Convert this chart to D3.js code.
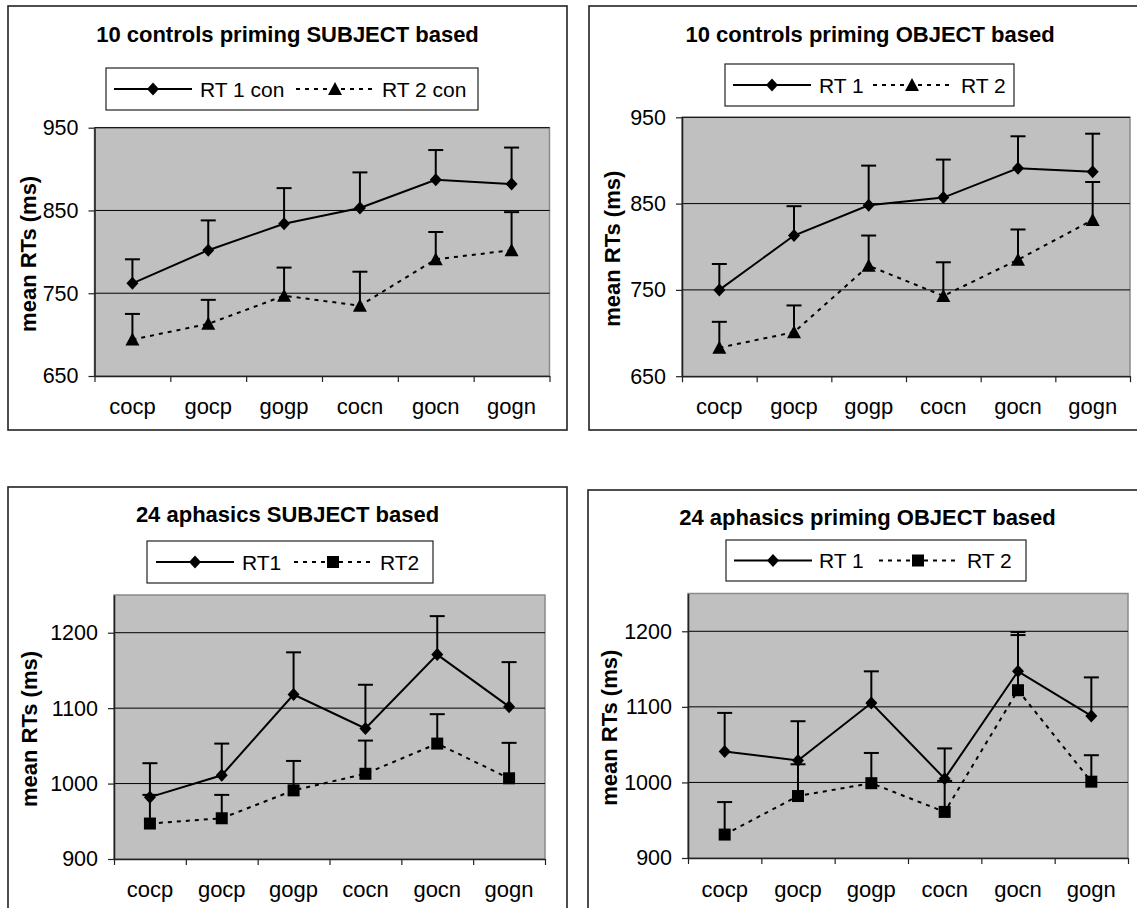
<!DOCTYPE html>
<html>
<head>
<meta charset="utf-8">
<script src="https://cdn.jsdelivr.net/npm/d3@7"></script>
<style>
  body { margin: 0; background: #fff; }
  svg { display: block; font-family: "Liberation Sans", Arial, sans-serif; }
</style>
</head>
<body>
<svg id="fig" width="1137" height="908"></svg>
<script>
// Conditions on the x axis
const categories = ["cocp", "gocp", "gogp", "cocn", "gocn", "gogn"];

// Y axis tick values
const ticksControls = [650, 750, 850, 950];
const ticksAphasics = [900, 1000, 1100, 1200];

// 10 controls, subject-based priming (mean RT and +1 error, ms)
const ctrlSubjRT1 = [762, 802, 834, 853, 887, 882];
const ctrlSubjRT1Err = [29, 36, 43, 43, 36, 44];
const ctrlSubjRT2 = [694, 713, 747, 735, 791, 802];
const ctrlSubjRT2Err = [31, 29, 34, 41, 33, 46];

// 10 controls, object-based priming
const ctrlObjRT1 = [750, 813, 848, 857, 891, 887];
const ctrlObjRT1Err = [30, 34, 46, 44, 37, 44];
const ctrlObjRT2 = [683, 701, 778, 743, 785, 831];
const ctrlObjRT2Err = [30, 31, 35, 39, 35, 44];

// 24 aphasics, subject-based
const aphSubjRT1 = [982, 1011, 1118, 1073, 1171, 1102];
const aphSubjRT1Err = [45, 42, 56, 58, 51, 59];
const aphSubjRT2 = [947, 954, 991, 1013, 1053, 1007];
const aphSubjRT2Err = [38, 31, 39, 44, 39, 47];

// 24 aphasics, object-based priming
const aphObjRT1 = [1041, 1029, 1105, 1005, 1147, 1088];
const aphObjRT1Err = [51, 52, 42, 40, 52, 51];
const aphObjRT2 = [931, 982, 999, 961, 1122, 1001];
const aphObjRT2Err = [43, 42, 40, 41, 73, 35];

// Panel layout
const panels = [
  {
    title: "10 controls priming SUBJECT based",
    names: ["RT 1 con", "RT 2 con"], marker2: "triangle",
    s1: ctrlSubjRT1, e1: ctrlSubjRT1Err, s2: ctrlSubjRT2, e2: ctrlSubjRT2Err,
    domain: [650, 950], ticks: ticksControls,
    frame: { x: 8, y: 6, w: 559, h: 424 },
    plot: { l: 94.5, r: 549.5, t: 127.7, b: 376 },
    titleY: 42, xLabelY: 414, axisTitleX: 28,
    legend: { x: 106, y: 68, w: 372, h: 42, items: [[114, 200], [296, 382]] }
  },
  {
    title: "10 controls priming OBJECT based",
    names: ["RT 1", "RT 2"], marker2: "triangle",
    s1: ctrlObjRT1, e1: ctrlObjRT1Err, s2: ctrlObjRT2, e2: ctrlObjRT2Err,
    domain: [650, 950], ticks: ticksControls,
    frame: { x: 589, y: 6, w: 562, h: 424 },
    plot: { l: 682, r: 1130, t: 117.3, b: 376.2 },
    titleY: 42, xLabelY: 414, axisTitleX: 612,
    legend: { x: 725, y: 64, w: 289, h: 42, items: [[733, 819], [873, 961]] }
  },
  {
    title: "24 aphasics SUBJECT based",
    names: ["RT1", "RT2"], marker2: "square",
    s1: aphSubjRT1, e1: aphSubjRT1Err, s2: aphSubjRT2, e2: aphSubjRT2Err,
    domain: [900, 1250], ticks: ticksAphasics,
    frame: { x: 8, y: 487, w: 559, h: 440 },
    plot: { l: 114, r: 545, t: 595, b: 859 },
    titleY: 522, xLabelY: 897, axisTitleX: 29,
    legend: { x: 147, y: 541, w: 286, h: 42, items: [[156, 242], [294, 380]] }
  },
  {
    title: "24 aphasics priming OBJECT based",
    names: ["RT 1", "RT 2"], marker2: "square",
    s1: aphObjRT1, e1: aphObjRT1Err, s2: aphObjRT2, e2: aphObjRT2Err,
    domain: [900, 1250], ticks: ticksAphasics,
    frame: { x: 588, y: 490, w: 559, h: 440 },
    plot: { l: 688, r: 1128, t: 593.5, b: 858 },
    titleY: 525, xLabelY: 897, axisTitleX: 609,
    legend: { x: 726, y: 540, w: 300, h: 41, items: [[734, 819], [879, 967]] }
  }
];

const svg = d3.select("#fig");
const LINE_LEN = 78;
const DASH = "4,5";

function drawMarker(g, type, x, y) {
  if (type === "diamond") {
    g.append("path")
      .attr("d", `M${x},${y - 6.5}L${x + 6},${y}L${x},${y + 6.5}L${x - 6},${y}Z`)
      .attr("fill", "#000");
  } else if (type === "triangle") {
    g.append("path")
      .attr("d", `M${x},${y - 7}L${x + 7},${y + 6}L${x - 7},${y + 6}Z`)
      .attr("fill", "#000");
  } else {
    g.append("rect")
      .attr("x", x - 6).attr("y", y - 6).attr("width", 12).attr("height", 12)
      .attr("fill", "#000");
  }
}

panels.forEach(p => {
  const g = svg.append("g");

  // Outer chart frame
  g.append("rect")
    .attr("x", p.frame.x).attr("y", p.frame.y)
    .attr("width", p.frame.w).attr("height", p.frame.h)
    .attr("fill", "#fff").attr("stroke", "#222").attr("stroke-width", 1.6);

  // Title
  g.append("text")
    .attr("x", p.frame.x + p.frame.w / 2).attr("y", p.titleY)
    .attr("text-anchor", "middle")
    .attr("font-size", 22).attr("font-weight", "bold")
    .text(p.title);

  // Scales
  const x = d3.scaleBand().domain(categories).range([p.plot.l, p.plot.r]).padding(0);
  const y = d3.scaleLinear().domain(p.domain).range([p.plot.b, p.plot.t]);
  const cx = c => x(c) + x.bandwidth() / 2;

  // Plot area
  g.append("rect")
    .attr("x", p.plot.l).attr("y", p.plot.t)
    .attr("width", p.plot.r - p.plot.l).attr("height", p.plot.b - p.plot.t)
    .attr("fill", "#c0c0c0").attr("stroke", "#8a8a8a").attr("stroke-width", 1.5);

  // Gridlines
  g.append("g").selectAll("line")
    .data(p.ticks.filter(t => t > p.domain[0]))
    .join("line")
    .attr("x1", p.plot.l).attr("x2", p.plot.r)
    .attr("y1", d => y(d)).attr("y2", d => y(d))
    .attr("stroke", "#000").attr("stroke-width", 1);

  // Y axis
  const yAxis = g.append("g")
    .attr("transform", `translate(${p.plot.l},0)`)
    .call(d3.axisLeft(y).tickValues(p.ticks).tickFormat(d3.format("d"))
      .tickSize(6).tickPadding(10).tickSizeOuter(0));
  yAxis.select(".domain").attr("stroke", "#222").attr("stroke-width", 1.6);
  yAxis.selectAll(".tick line").attr("stroke", "#222").attr("stroke-width", 1.2);
  yAxis.selectAll(".tick text")
    .attr("font-size", 21.5).attr("fill", "#000")
    .attr("font-family", "'Liberation Sans', Arial, sans-serif");

  // X axis: boundary ticks between categories
  const xb = d3.scaleLinear().domain([0, categories.length]).range([p.plot.l, p.plot.r]);
  const xAxis = g.append("g")
    .attr("transform", `translate(0,${p.plot.b})`)
    .call(d3.axisBottom(xb).tickValues(d3.range(categories.length + 1))
      .tickSize(6).tickSizeOuter(0).tickFormat(""));
  xAxis.select(".domain").attr("stroke", "#222").attr("stroke-width", 1.6);
  xAxis.selectAll(".tick line").attr("stroke", "#222").attr("stroke-width", 1.2);

  // X category labels
  g.append("g").selectAll("text")
    .data(categories)
    .join("text")
    .attr("x", d => cx(d)).attr("y", p.xLabelY)
    .attr("text-anchor", "middle").attr("font-size", 22)
    .text(d => d);

  // Y axis title
  g.append("text")
    .attr("transform", `translate(${p.axisTitleX},${(p.plot.t + p.plot.b) / 2 + 2}) rotate(-90)`)
    .attr("text-anchor", "middle").attr("dominant-baseline", "central")
    .attr("font-size", 22).attr("font-weight", "bold")
    .text("mean RTs (ms)");

  const series = [
    { vals: p.s1, errs: p.e1, dash: null, marker: "diamond" },
    { vals: p.s2, errs: p.e2, dash: DASH, marker: p.marker2 }
  ];

  const line = d3.line().x((d, i) => cx(categories[i])).y(d => y(d));

  series.forEach(s => {
    g.append("path")
      .attr("d", line(s.vals))
      .attr("fill", "none").attr("stroke", "#000").attr("stroke-width", 2)
      .attr("stroke-dasharray", s.dash);
  });

  // Error bars (upward only)
  series.forEach(s => {
    const eg = g.append("g");
    s.vals.forEach((v, i) => {
      const px = cx(categories[i]);
      eg.append("line")
        .attr("x1", px).attr("x2", px)
        .attr("y1", y(v)).attr("y2", y(v + s.errs[i]))
        .attr("stroke", "#000").attr("stroke-width", 2);
      eg.append("line")
        .attr("x1", px - 7.5).attr("x2", px + 7.5)
        .attr("y1", y(v + s.errs[i])).attr("y2", y(v + s.errs[i]))
        .attr("stroke", "#000").attr("stroke-width", 2);
    });
  });

  // Markers
  series.forEach(s => {
    const mg = g.append("g");
    s.vals.forEach((v, i) => drawMarker(mg, s.marker, cx(categories[i]), y(v)));
  });

  // Legend
  const L = p.legend;
  g.append("rect")
    .attr("x", L.x).attr("y", L.y).attr("width", L.w).attr("height", L.h)
    .attr("fill", "#fff").attr("stroke", "#222").attr("stroke-width", 1.2);
  const ly = L.y + L.h / 2;
  L.items.forEach(([lx, tx], k) => {
    const s = series[k];
    g.append("line")
      .attr("x1", lx).attr("x2", lx + LINE_LEN)
      .attr("y1", ly).attr("y2", ly)
      .attr("stroke", "#000").attr("stroke-width", 2)
      .attr("stroke-dasharray", s.dash);
    drawMarker(g, s.marker, lx + LINE_LEN / 2, ly);
    g.append("text")
      .attr("x", tx).attr("y", ly + 7.5)
      .attr("font-size", 21)
      .text(p.names[k]);
  });
});
</script>
</body>
</html>
